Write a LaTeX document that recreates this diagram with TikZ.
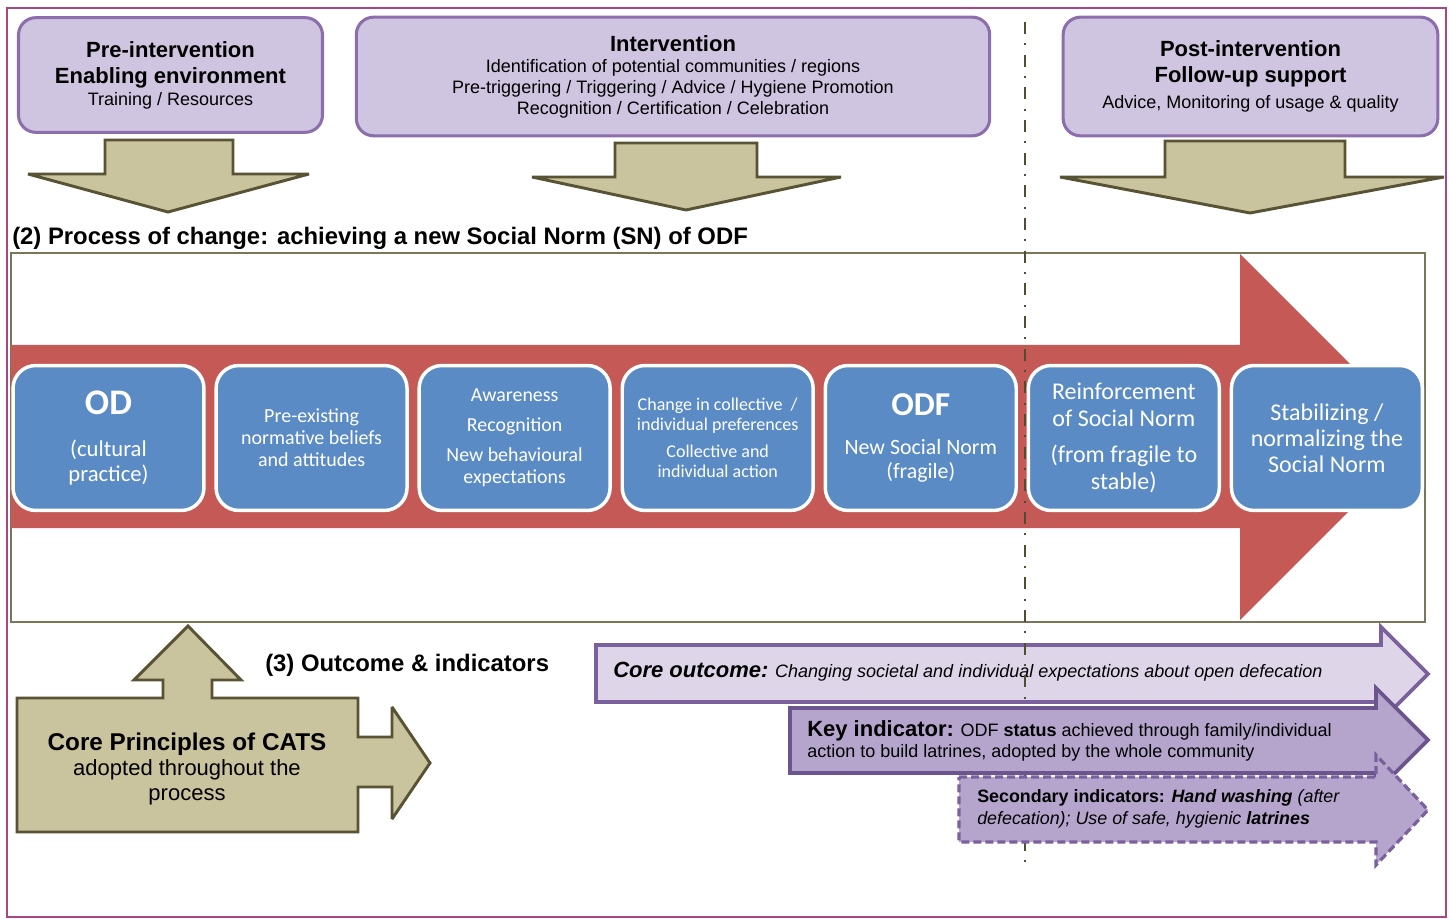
\documentclass[tikz,border=0pt]{standalone}
\usepackage{fontspec}
\setmainfont{Liberation Sans}
\newfontfamily\calibrifont{Carlito}
\usepackage{tikz}
\definecolor{framepink}{RGB}{168, 72, 130}
\definecolor{lilacfill}{RGB}{208, 197, 224}
\definecolor{lilacline}{RGB}{141, 110, 172}
\definecolor{khakifill}{RGB}{201, 195, 158}
\definecolor{khakiline}{RGB}{88, 83, 52}
\definecolor{changered}{RGB}{196, 89, 86}
\definecolor{stageblue}{RGB}{90, 139, 196}
\definecolor{olivegrey}{RGB}{122, 118, 92}
\definecolor{outcomefill}{RGB}{222, 214, 232}
\definecolor{outcomeline}{RGB}{122, 96, 156}
\definecolor{keyfill}{RGB}{181, 165, 205}
\definecolor{keyline}{RGB}{108, 84, 142}
\definecolor{divider}{RGB}{82, 77, 48}
\usetikzlibrary{positioning}

\begin{document}
\begin{tikzpicture}[
        x=0.75pt, y=-0.75pt,
        node distance=9.1pt,
        phasebox/.style={rectangle, rounded corners=13pt, draw=lilacline, fill=lilacfill, line width=2.3pt, align=center, inner sep=2pt},
        stagebox/.style={rectangle, rounded corners=17pt, draw=white, fill=stageblue, line width=2.6pt, minimum width=143.2pt, minimum height=108.7pt, outer sep=0pt, align=center, text=white, inner sep=2pt},
        blockarrow/.style={draw=khakiline, fill=khakifill, line width=2.2pt, line join=miter, miter limit=3},
        outcomearrow/.style={draw=outcomeline, fill=outcomefill, line width=2.8pt, line join=miter},
        keyarrow/.style={draw=keyline, fill=keyfill, line width=2.8pt, line join=miter},
        secarrow/.style={draw=outcomeline, fill=keyfill, line width=2.4pt, dash pattern=on 6pt off 3pt, line join=miter},
        titletext/.style={anchor=west, inner sep=0pt, font=\fontsize{17.9}{20}\selectfont\bfseries}
    ]
        \useasboundingbox (0,0) rectangle (1449,919);
        \draw[framepink, line width=1.6pt] (7,8) rectangle (1446,917);

        % Phase boxes
        \node[phasebox, minimum width=228pt, minimum height=86pt, font=\fontsize{13.5}{19.5}\selectfont] (pre) at (170.5,75)
            {\textbf{\fontsize{16.5}{19.5}\selectfont Pre-intervention}\\\textbf{\fontsize{16.5}{19.5}\selectfont Enabling environment}\\[-3pt]Training / Resources};
        \node[phasebox, minimum width=475pt, minimum height=89pt, font=\fontsize{13.5}{15.75}\selectfont] (int) at (673,76.5)
            {\textbf{\fontsize{16.5}{19.5}\selectfont Intervention}\\Identification of potential communities / regions\\Pre-triggering / Triggering / Advice / Hygiene Promotion\\Recognition / Certification / Celebration};
        \node[phasebox, minimum width=281pt, minimum height=89pt, font=\fontsize{13.5}{19.5}\selectfont] (post) at (1250.5,76.5)
            {\textbf{\fontsize{16.5}{19.5}\selectfont Post-intervention}\\\textbf{\fontsize{16.5}{19.5}\selectfont Follow-up support}\\Advice, Monitoring of usage \& quality};

        % Down arrows
        \draw[blockarrow] (105,140) -- (233,140) -- (233,174) -- (309,174) -- (168,212) -- (28,174) -- (105,174) -- cycle;
        \draw[blockarrow] (615,143) -- (757,143) -- (757,177) -- (841,177) -- (686,210) -- (532,177) -- (615,177) -- cycle;
        \draw[blockarrow] (1165,141) -- (1345,141) -- (1345,177) -- (1444,177) -- (1250,213) -- (1060,177) -- (1165,177) -- cycle;

        % Process of change
        \node[titletext] (proctitle) at (12,238) {(2) Process of change: achieving a new Social Norm (SN) of ODF};
        \draw[olivegrey, line width=1.1pt] (11,253) rectangle (1425,622);
        \fill[changered] (11,345) -- (1240,345) -- (1240,254) -- (1423,437) -- (1240,620) -- (1240,528) -- (11,528) -- cycle;

        % Stage boxes
        \node[stagebox, font=\calibrifont\fontsize{17}{18.75}\selectfont] (od) at (108.5,438)
            {\textbf{\fontsize{27}{30}\selectfont OD}\\[13pt](cultural\\practice)};
        \node[stagebox, right=of od, font=\calibrifont\fontsize{15}{16.5}\selectfont] (beliefs)
            {Pre-existing\\normative beliefs\\and attitudes};
        \node[stagebox, right=of beliefs, font=\calibrifont\fontsize{14.9}{16.5}\selectfont] (aware)
            {Awareness\\[6pt]Recognition\\[6pt]New behavioural\\expectations};
        \node[stagebox, right=of aware, font=\calibrifont\fontsize{13.5}{14.6}\selectfont] (prefs)
            {Change in collective~~/\\individual preferences\\[6pt]Collective and\\individual action};
        \node[stagebox, right=of prefs, font=\calibrifont\fontsize{16.4}{18}\selectfont] (odf)
            {\textbf{\fontsize{25}{28}\selectfont ODF}\\[11pt]New Social Norm\\(fragile)};
        \node[stagebox, right=of odf, font=\calibrifont\fontsize{18}{20.6}\selectfont] (reinforce)
            {Reinforcement\\of Social Norm\\[6pt](from fragile to\\stable)};
        \node[stagebox, right=of reinforce, font=\calibrifont\fontsize{18}{19.5}\selectfont] (stable)
            {Stabilizing /\\normalizing the\\Social Norm};

        % Core principles
        \draw[blockarrow] (17,698) -- (163,698) -- (163,680) -- (134,680) -- (188,626) -- (241,680) -- (212,680) -- (212,698)
            -- (358,698) -- (358,737) -- (392,737) -- (392,707) -- (430,763) -- (392,819) -- (392,787) -- (358,787) -- (358,832) -- (17,832) -- cycle;
        \node[align=center, font=\fontsize{16.5}{19}\selectfont] (cats) at (187,769)
            {\textbf{\fontsize{18.2}{19}\selectfont Core Principles of CATS}\\adopted throughout the\\process};
        \node[titletext] (outtitle) at (265,665) {(3) Outcome \& indicators};

        % Outcome and indicators
        \draw[outcomearrow] (596,645) -- (1381,645) -- (1381,627) -- (1428,674) -- (1381,721) -- (1381,702) -- (596,702) -- cycle;
        \node[anchor=west, inner sep=0pt, font=\fontsize{13.5}{16}\selectfont] (outcome) at (613,672)
            {\textbf{\textit{\fontsize{16.5}{18}\selectfont Core outcome:}} \textit{Changing societal and individual expectations about open defecation}};

        % Divider
        \coordinate (divtop) at (1025,22);
        \coordinate (divbot) at (1025,865);
        \draw[divider, line width=1.8pt, dash pattern=on 9pt off 7pt on 1.5pt off 7pt] (divtop) -- (divbot);

        \draw[keyarrow] (790,708) -- (1376,708) -- (1376,688) -- (1428,740) -- (1376,792) -- (1376,773) -- (790,773) -- cycle;
        \node[anchor=west, align=left, inner sep=0pt, font=\fontsize{13.5}{15.75}\selectfont] (keyind) at (807,741)
            {{\fontsize{16.5}{18}\selectfont\bfseries Key indicator:} ODF \textbf{status} achieved through family/individual\\action to build latrines, adopted by the whole community};
        \draw[secarrow] (959,777) -- (1376,777) -- (1376,755) -- (1428,810) -- (1376,865) -- (1376,842) -- (959,842) -- cycle;
        \node[anchor=west, align=left, inner sep=0pt, font=\fontsize{13.4}{16.5}\selectfont] (secind) at (977,809)
            {\textbf{Secondary indicators:} \textbf{\textit{Hand washing}} \textit{(after}\\\textit{defecation); Use of safe, hygienic} \textbf{\textit{latrines}}};
    \end{tikzpicture}
\end{document}
